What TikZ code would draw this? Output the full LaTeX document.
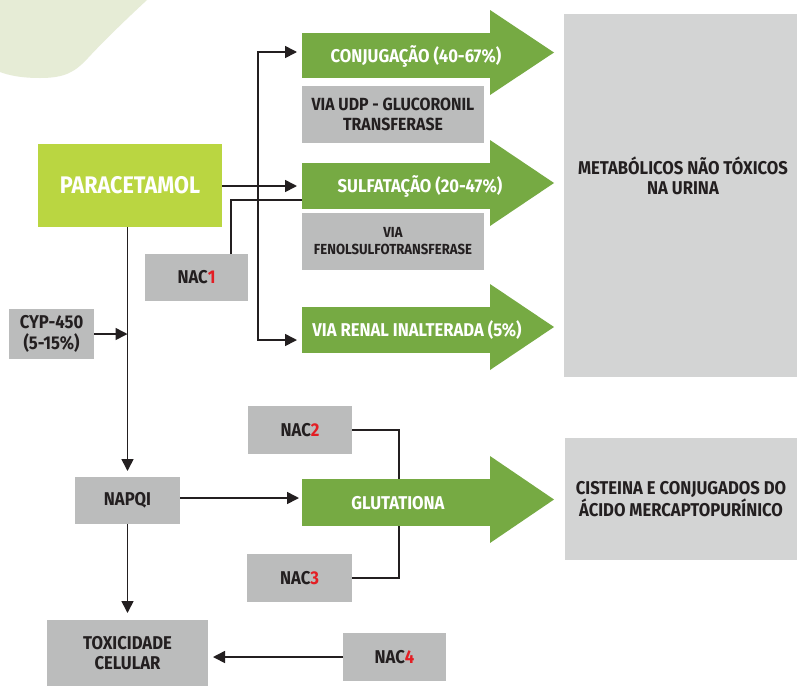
\documentclass[tikz,border=0pt]{standalone}
\usepackage{fontspec}
\setmainfont{Fira Sans}[FakeStretch=0.9]
\usetikzlibrary{arrows.meta,calc}
\definecolor{agreen}{HTML}{76AA43}
\definecolor{lime}{HTML}{BAD641}
\definecolor{boxgray}{HTML}{BBBCBC}
\definecolor{lightgray}{HTML}{D3D4D4}
\definecolor{tdark}{HTML}{231F20}
\definecolor{nacred}{HTML}{E31E24}
\definecolor{blob}{HTML}{E6ECD6}
\newcommand{\greenhead}[1]{\fill[agreen] (#1.north east) -- ++(0,-23) -- ($(#1.east)+(64,-3)$) -- ($(#1.south east)+(0,17)$) -- cycle;}
\begin{document}
\begin{tikzpicture}[x=1pt,y=-1pt,
  every node/.style={inner sep=0pt, outer sep=0pt, align=center},
  gbox/.style={fill=boxgray, text=tdark, font=\bfseries\fontsize{18.5}{20.5}\selectfont},
  gbody/.style={fill=agreen, minimum width=188, text=white},
  wlabel/.style={text=white, font=\bfseries\fontsize{18.5}{20.5}\selectfont},
  arr/.style={line width=1.6pt, draw=tdark, -{Triangle[length=12pt,width=12pt]}},
  thinline/.style={line width=1.6pt, draw=tdark},
  thickline/.style={line width=2.6pt, draw=tdark}]
\useasboundingbox[fill=white] (0,0) rectangle (797,686);
% background blob
\fill[blob] (0,0) -- (147,0) .. controls (120,25) and (100,45) .. (88,58)
  .. controls (75,72) and (65,78) .. (40,78) .. controls (20,78) and (8,75) .. (0,72) -- cycle;
% left column
\node[fill=lime, text=white, minimum width=184, minimum height=83,
  font=\bfseries\fontsize{24}{28}\selectfont] (para) at (130,185.5) {PARACETAMOL};
% green arrows
\node[gbody, minimum height=45] (conj) at (396,55.5) {};
\greenhead{conj}
\node[gbody, minimum height=46] (sulf) at (396,186) {};
\greenhead{sulf}
\node[gbody, minimum height=46] (renal) at (396,330) {};
\greenhead{renal}
\node[gbody, minimum height=47] (glut) at (396,502.5) {};
\greenhead{glut}
\node[wlabel] (conjt) at (416,56) {CONJUGAÇÃO (40-67\%)};
\node[wlabel] (sulft) at (420,186) {SULFATAÇÃO (20-47\%)};
\node[wlabel] (renalt) at (417,330) {VIA RENAL INALTERADA (5\%)};
\node[wlabel] (glutt) at (398,503) {GLUTATIONA};
% gray boxes
\node[gbox, minimum width=182, minimum height=57, font=\bfseries\fontsize{17.6}{19.5}\selectfont] (udp) at (393,114.5) {VIA UDP - GLUCORONIL\\TRANSFERASE};
\node[gbox, minimum width=182, minimum height=57, font=\bfseries\fontsize{14.6}{17}\selectfont] (fenol) at (393,241.5) {VIA\\FENOLSULFOTRANSFERASE};
\node[gbox, minimum width=103, minimum height=47] (nac1) at (196.5,277.5) {NAC\textcolor{nacred}{1}};
\node[gbox, minimum width=85, minimum height=50] (cyp) at (51.5,334) {CYP-450\\(5-15\%)};
\node[gbox, fill=lightgray, minimum width=233, minimum height=363] (meta) at (680.5,195.5) {};
\node[text=tdark, font=\bfseries\fontsize{18.5}{20.5}\selectfont] (metat) at (683,176) {METABÓLICOS NÃO TÓXICOS\\NA URINA};
\node[gbox, fill=lightgray, minimum width=233, minimum height=122] (cist) at (681,499) {CISTEINA E CONJUGADOS DO\\ÁCIDO MERCAPTOPURÍNICO};
\node[gbox, minimum width=105, minimum height=47] (napqi) at (127.5,500.5) {NAPQI};
\node[gbox, minimum width=104, minimum height=48] (nac2) at (300,430) {NAC\textcolor{nacred}{2}};
\node[gbox, minimum width=105, minimum height=48] (nac3) at (299.5,578) {NAC\textcolor{nacred}{3}};
\node[gbox, minimum width=161, minimum height=66] (tox) at (127.5,653) {TOXICIDADE\\CELULAR};
\node[gbox, minimum width=103, minimum height=48] (nac4) at (394.5,657) {NAC\textcolor{nacred}{4}};
% connectors
\coordinate (j1) at (258,185);
\draw[arr, shorten >=5pt] (para.east |- sulf.west) -- (sulf.west);
\draw[arr, shorten >=5pt] (j1) |- (conj.west |- 0,52);
\draw[arr, shorten >=5pt] (j1) |- (renal.west |- 0,340);
\coordinate (n1) at ($(nac1.north)+(34.5,0)$);
\draw[thinline] (n1) |- ($(sulf.south west)+(0,-9)$);
\draw[arr, shorten >=6pt] (para.south -| napqi.north) -- (napqi.north);
\draw[arr] (cyp.east) -- (cyp.east -| napqi.north);
\draw[arr, shorten >=3pt] (napqi.east |- 0,498) -- (glut.west |- 0,498);
\draw[arr, shorten >=7pt] (napqi.south) -- (tox.north);
\draw[arr, shorten >=5pt] (nac4.west) -- (tox.east |- nac4.west);
\draw[thickline] (nac2.east) -| ($(glut.north)+(3,0)$);
\draw[thickline] (nac3.east) -| ($(glut.south)+(3,0)$);
\end{tikzpicture}
\end{document}
